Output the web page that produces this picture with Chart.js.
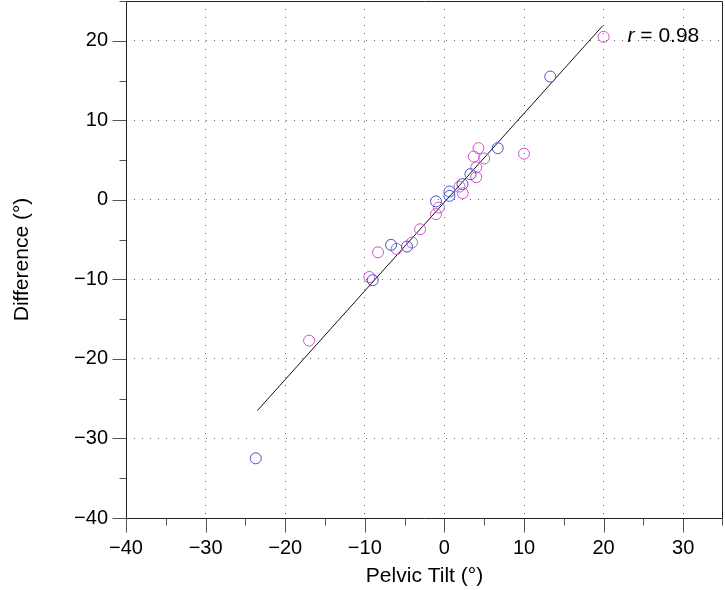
<!DOCTYPE html>
<html>
<head>
<meta charset="utf-8">
<script src="https://cdn.jsdelivr.net/npm/chart.js@4.4.0/dist/chart.umd.min.js"></script>
<style>
  html, body { margin: 0; padding: 0; background: #fff; }
  #wrap { width: 725px; height: 590px; }
</style>
</head>
<body>
<div id="wrap"><canvas id="tiltChart"></canvas></div>
<script>
// ---------------------------Data------------------------------------------------
const blueX = [-23.7, -9.0, -6.7, -4.7, -1.05, 0.63, 0.63, 2.27, 3.27, 6.7, 13.3];
const blueY = [-32.5, -10.1, -5.66, -5.87, -0.2, 0.5, 1.05, 1.97, 3.23, 6.5, 15.5];

const magentaX = [-17.0, -9.43, -8.34, -6.0, -4.07, -3.06, -1.05, -0.7, 1.9, 2.3, 4.0, 4.0, 3.7, 4.28, 5.0, 10.0, 20.0];
const magentaY = [-17.7, -9.7, -6.6, -6.17, -5.37, -3.7, -1.8, -0.97, 1.67, 0.84, 2.85, 4.07, 5.45, 6.5, 5.2, 5.8, 20.5];

// regression line end points
const fitX = [-23.5, 19.9];
const fitY = [-26.5, 21.9];

const xTicks = [-40, -30, -20, -10, 0, 10, 20, 30];
const yTicks = [-40, -30, -20, -10, 0, 10, 20];
const rLabel = "0.98";
// ----------------------------------------------------------------------------------------------

const FONT = '"Liberation Sans", Arial, Helvetica, sans-serif';
const toPoints = (xs, ys) => xs.map((x, i) => ({ x: x, y: ys[i] }));
const isMajor = (v, list) => list.includes(v);
const minus = v => (v < 0 ? "\u2212" + Math.abs(v) : String(v));

// draws the tick marks (long at 10s, short at 5s), the frame and the r label
const framePlugin = {
  id: "frame",
  afterDraw(chart) {
    const c = chart.ctx;
    const a = chart.chartArea;
    const xs = chart.scales.x;
    const ys = chart.scales.y;
    const L = Math.round(a.left) + 0.5, R = Math.round(a.right) - 0.5;
    const T = Math.round(a.top) + 0.5, B = Math.round(a.bottom) + 0.5;
    c.save();
    c.strokeStyle = "#555";
    c.lineWidth = 1;
    xs.ticks.forEach(t => {
      const px = Math.round(xs.getPixelForValue(t.value)) + 0.5;
      const len = isMajor(t.value, xTicks) ? 14 : 7;
      c.beginPath();
      c.moveTo(Math.min(px, R), B);
      c.lineTo(Math.min(px, R), B + len);
      c.stroke();
    });
    ys.ticks.forEach(t => {
      const py = Math.round(ys.getPixelForValue(t.value)) + 0.5;
      const len = isMajor(t.value, yTicks) ? 14 : 7;
      c.beginPath();
      c.moveTo(L, Math.max(py, T));
      c.lineTo(L - len, Math.max(py, T));
      c.stroke();
    });
    c.strokeStyle = "#222";
    c.beginPath();
    c.moveTo(L, T); c.lineTo(R, T); c.lineTo(R, B); c.lineTo(L, B); c.closePath();
    c.stroke();

    // r = 0.98
    const tx = xs.getPixelForValue(23.0);
    const ty = ys.getPixelForValue(20.6);
    c.fillStyle = "#000";
    c.textBaseline = "middle";
    c.textAlign = "left";
    c.font = "italic 21px " + FONT;
    c.fillText("r", tx, ty);
    const w = c.measureText("r").width;
    c.font = "21px " + FONT;
    c.fillText(" = " + rLabel, tx + w, ty);
    c.restore();
  }
};

const ctx = document.getElementById("tiltChart").getContext("2d");
const tiltChart = new Chart(ctx, {
  type: "scatter",
  data: {
    datasets: [{
      label: "fit",
      type: "line",
      data: toPoints(fitX, fitY),
      borderColor: "#111",
      borderWidth: 1,
      pointRadius: 0,
      fill: false,
      order: 3
    }, {
      label: "Group A",
      data: toPoints(magentaX, magentaY),
      pointStyle: "circle",
      pointRadius: 5.5,
      borderColor: "#cc55cc",
      backgroundColor: "rgba(0,0,0,0)",
      borderWidth: 1,
      order: 2
    }, {
      label: "Group B",
      data: toPoints(blueX, blueY),
      pointStyle: "circle",
      pointRadius: 5.5,
      borderColor: "#4455cc",
      backgroundColor: "rgba(0,0,0,0)",
      borderWidth: 1,
      order: 1
    }]
  },
  options: {
    responsive: true,
    maintainAspectRatio: false,
    animation: false,
    layout: { autoPadding: false, padding: { left: 0, top: 1, right: 2, bottom: 0 } },
    plugins: {
      legend: { display: false },
      tooltip: { enabled: false }
    },
    scales: {
      x: {
        type: "linear",
        min: -40,
        max: 35,
        afterFit: s => { s.height = 72; s.paddingLeft = 0; s.paddingRight = 0; },
        afterBuildTicks: s => {
          s.ticks = [];
          for (let v = -40; v <= 35; v += 5) s.ticks.push({ value: v });
        },
        grid: {
          drawTicks: false,
          color: c => (c.tick && isMajor(c.tick.value, xTicks) && c.tick.value !== -40 ? "#666" : "rgba(0,0,0,0)"),
          lineWidth: 1
        },
        border: { display: false, dash: [1, 7] },
        ticks: {
          padding: 18,
          maxRotation: 0,
          autoSkip: false,
          color: "#000",
          font: { family: FONT, size: 20 },
          callback: v => (isMajor(v, xTicks) ? minus(v) : "")
        },
        title: {
          display: true,
          text: "Pelvic Tilt (°)",
          color: "#000",
          font: { family: FONT, size: 21 },
          padding: { top: 0, bottom: 1 }
        }
      },
      y: {
        type: "linear",
        min: -40,
        max: 25,
        afterFit: s => { s.width = 126; s.paddingTop = 0; s.paddingBottom = 0; },
        afterBuildTicks: s => {
          s.ticks = [];
          for (let v = -40; v <= 25; v += 5) s.ticks.push({ value: v });
        },
        grid: {
          drawTicks: false,
          color: c => (c.tick && isMajor(c.tick.value, yTicks) && c.tick.value !== -40 ? "#666" : "rgba(0,0,0,0)"),
          lineWidth: 1
        },
        border: { display: false, dash: [1, 7] },
        ticks: {
          padding: 18,
          autoSkip: false,
          color: "#000",
          font: { family: FONT, size: 20 },
          callback: v => (isMajor(v, yTicks) ? minus(v) : "")
        },
        title: {
          display: true,
          text: "Difference (°)",
          color: "#000",
          font: { family: FONT, size: 21 },
          padding: { top: 10, bottom: 0 }
        }
      }
    }
  },
  plugins: [framePlugin]
});
</script>
</body>
</html>
